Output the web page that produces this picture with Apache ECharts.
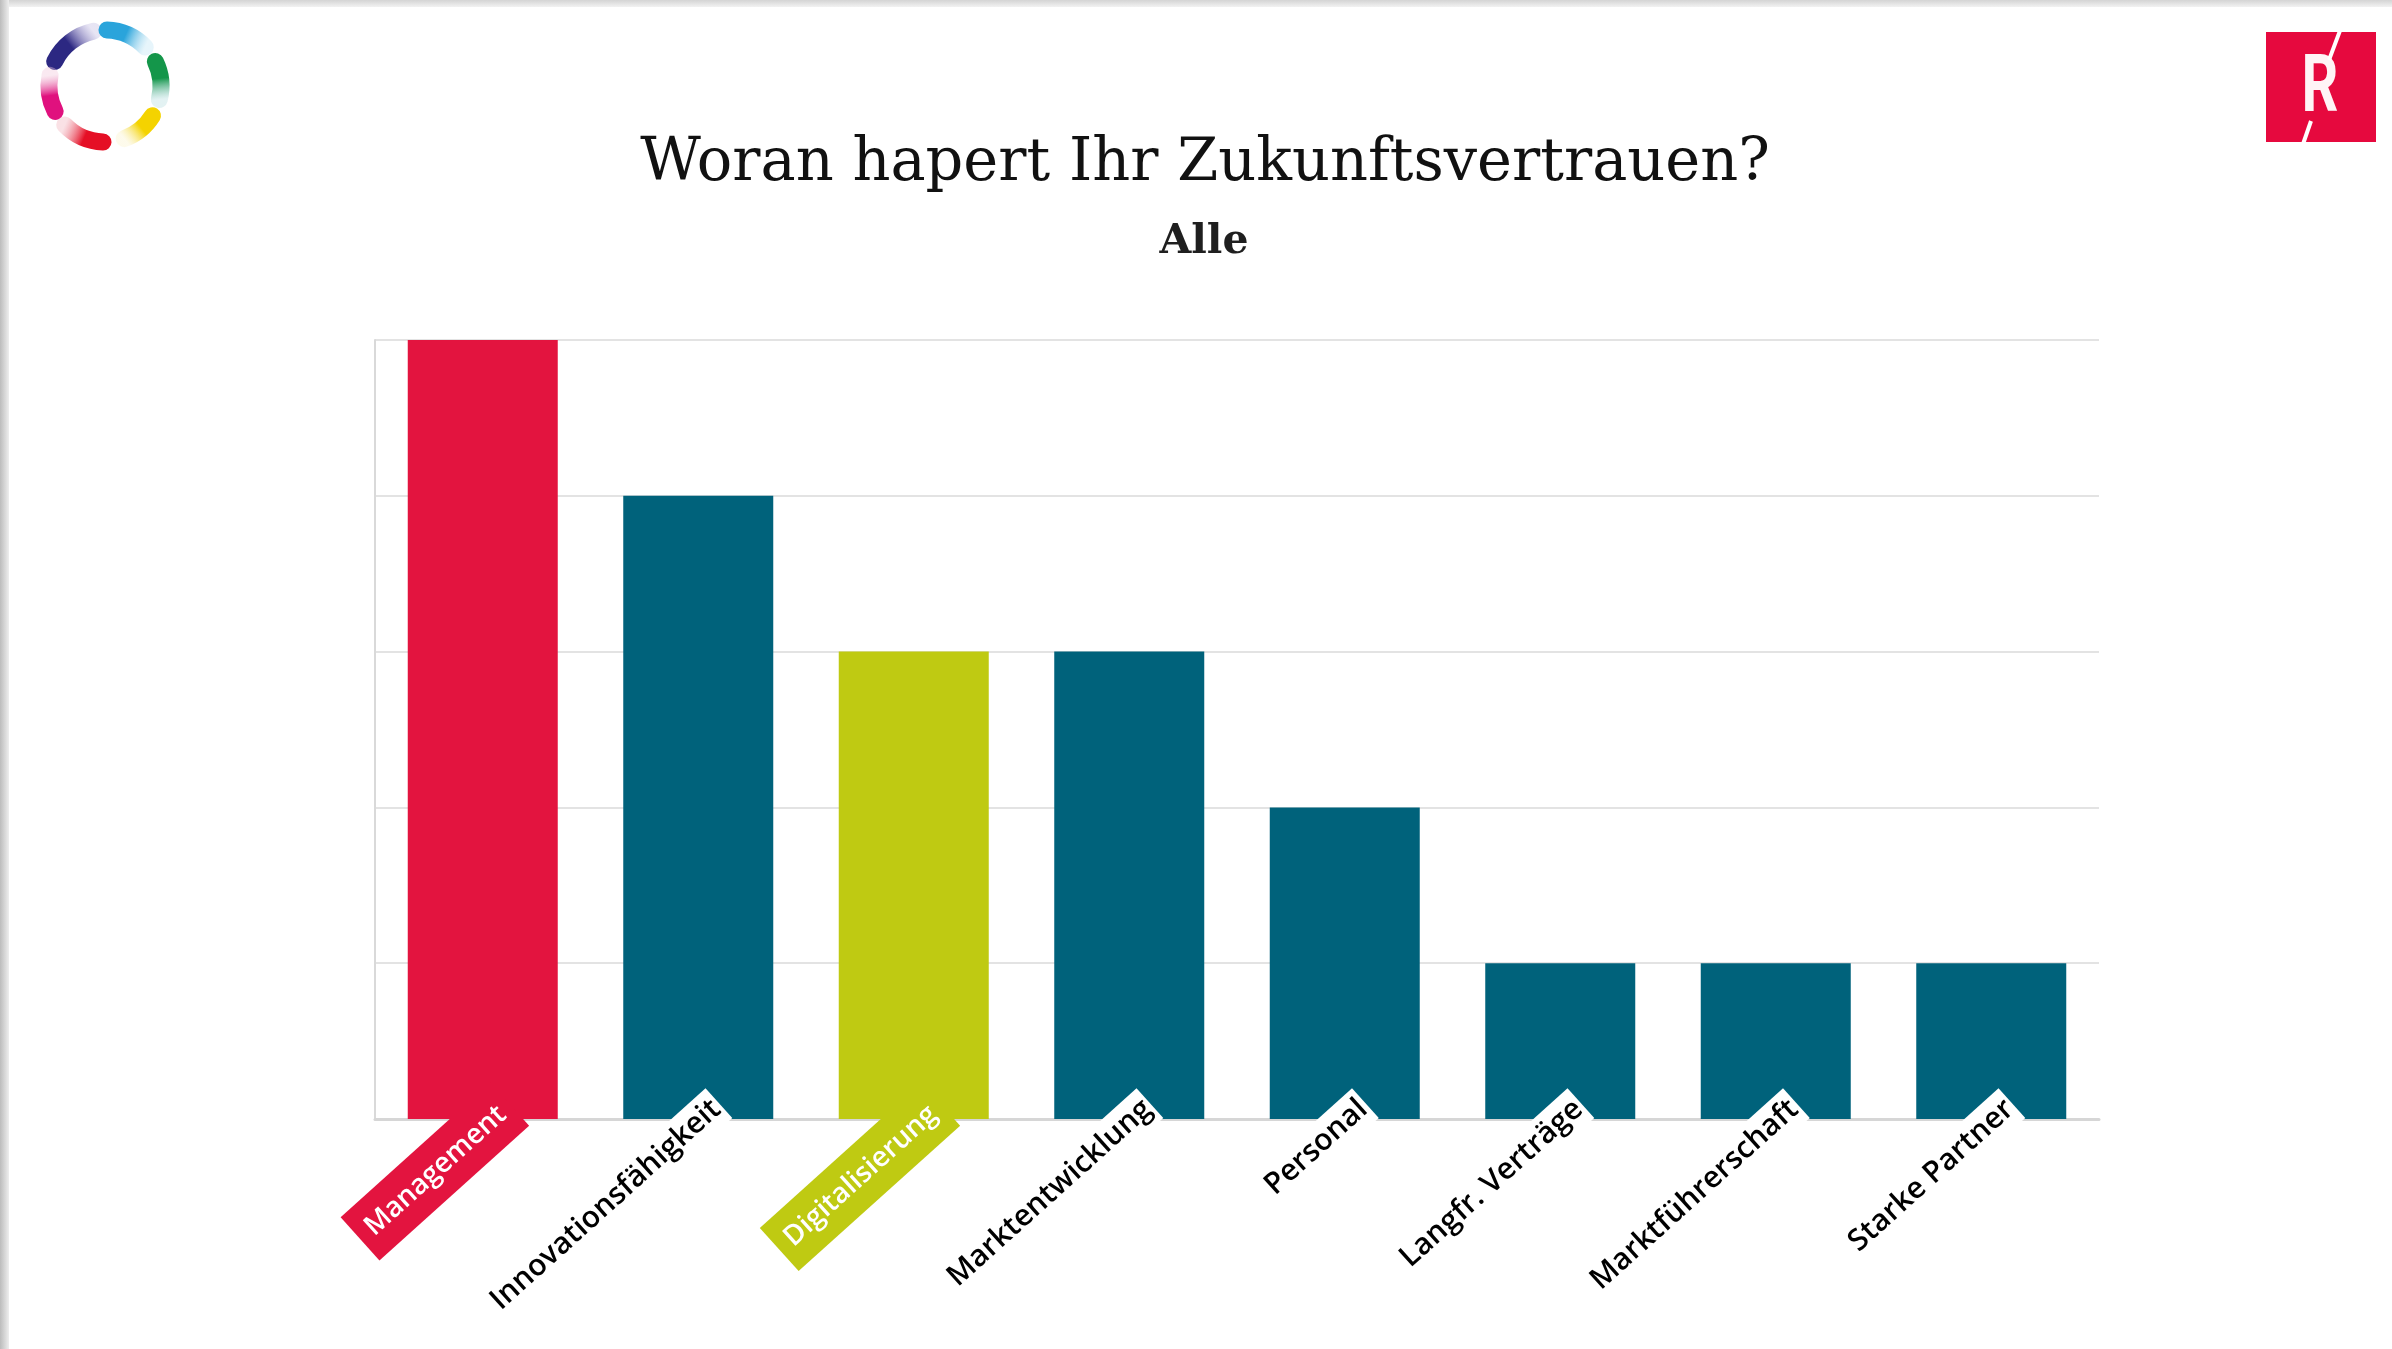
<!DOCTYPE html>
<html>
<head>
<meta charset="utf-8">
<title>Woran hapert Ihr Zukunftsvertrauen?</title>
<script src="https://cdn.jsdelivr.net/npm/echarts@6/dist/echarts.min.js"></script>
<style>
  html, body { margin: 0; padding: 0; background: #ffffff; }
  #chart { width: 2392px; height: 1349px; }
</style>
</head>
<body>
<div id="chart"></div>
<script>
// Survey answers: what holds back confidence in the future
const categories = ['Management', 'Innovationsfähigkeit', 'Digitalisierung', 'Marktentwicklung',
  'Personal', 'Langfr. Verträge', 'Marktführerschaft', 'Starke Partner'];
const values = [5, 4, 3, 3, 2, 1, 1, 1];
const barColors = ['#e3143f', '#00627b', '#bfca12', '#00627b', '#00627b', '#00627b', '#00627b', '#00627b'];
// categories whose name sits on a coloured flag instead of a white tag
const flagColors = { 'Management': '#e3143f', 'Digitalisierung': '#bfca12' };

const titleText = 'Woran hapert Ihr Zukunftsvertrauen?';
const subtitleText = 'Alle';

const chart = echarts.init(document.getElementById('chart'), null, { renderer: 'canvas' });

// colour ring logo: each segment starts strong and fades clockwise
const ring = { cx: 105, cy: 86, r: 56, w: 17 };
const ringSegments = [
  { from: 206, to: 258, c0: '#2c2882', c1: 'rgba(160,150,210,0.25)' },
  { from: 272, to: 316, c0: '#2aa4db', c1: 'rgba(175,222,242,0.3)' },
  { from: 334, to: 374, c0: '#14964a', c1: 'rgba(175,218,220,0.35)' },
  { from: 32, to: 70, c0: '#f4d300', c1: 'rgba(250,240,190,0.3)' },
  { from: 92, to: 136, c0: '#e50f25', c1: 'rgba(242,180,190,0.4)' },
  { from: 153, to: 191, c0: '#e0117e', c1: 'rgba(242,200,220,0.4)' }
];
const rad = d => d * Math.PI / 180;
const ringGraphics = ringSegments.map(s => {
  const x1 = ring.cx + ring.r * Math.cos(rad(s.from));
  const y1 = ring.cy + ring.r * Math.sin(rad(s.from));
  const x2 = ring.cx + ring.r * Math.cos(rad(s.to));
  const y2 = ring.cy + ring.r * Math.sin(rad(s.to));
  return {
    type: 'arc',
    shape: { cx: ring.cx, cy: ring.cy, r: ring.r, startAngle: rad(s.from), endAngle: rad(s.to), clockwise: true },
    style: {
      fill: null,
      lineWidth: ring.w,
      lineCap: 'round',
      stroke: {
        type: 'linear', global: true, x: x1, y: y1, x2: x2, y2: y2,
        colorStops: [{ offset: 0, color: s.c0 }, { offset: 0.45, color: s.c0 }, { offset: 1, color: s.c1 }]
      }
    },
    z: 20
  };
});

// category names: rotated tags hanging from the foot of each bar
const tagLabel = {
  show: true,
  formatter: '{b}',
  position: 'insideBottom',
  distance: 0,
  rotate: 42,
  align: 'right',
  verticalAlign: 'middle',
  offset: [26, 2],
  fontFamily: 'Open Sans',
  fontWeight: 600,
  fontSize: 30,
  lineHeight: 34,
  color: '#000000',
  textBorderWidth: 0,
  backgroundColor: '#ffffff',
  padding: [3, 3, 3, 6]
};
const flagLabel = color => ({
  color: '#ffffff',
  backgroundColor: color,
  fontSize: 28,
  lineHeight: 32,
  padding: [13, 10, 13, 12],
  offset: [30, 7]
});

const option = {
  backgroundColor: '#ffffff',
  animation: false,
  title: [
    {
      text: titleText,
      left: 1205,
      textAlign: 'center',
      top: 135,
      padding: 0,
      textStyle: { fontFamily: 'DejaVu Serif', fontWeight: 'normal', fontSize: 59, color: '#111111' }
    },
    {
      text: subtitleText,
      left: 1204,
      textAlign: 'center',
      top: 222,
      padding: 0,
      textStyle: { fontFamily: 'DejaVu Serif', fontWeight: 'bold', fontSize: 41, color: '#1f1f1f' }
    }
  ],
  grid: { left: 375, right: 293, top: 340, bottom: 230 },
  xAxis: {
    type: 'category',
    data: categories,
    axisTick: { show: false },
    axisLabel: { show: false },
    axisLine: { show: true, lineStyle: { color: '#d6d6d6', width: 3 } }
  },
  yAxis: {
    type: 'value',
    min: 0,
    max: 5,
    interval: 1,
    axisLabel: { show: false },
    axisTick: { show: false },
    axisLine: { show: true, lineStyle: { color: '#d9d9d9', width: 2 } },
    splitLine: { show: true, lineStyle: { color: '#e3e3e3', width: 2 } }
  },
  series: [{
    type: 'bar',
    barWidth: 150,
    label: tagLabel,
    data: values.map((v, i) => {
      const item = { value: v, itemStyle: { color: barColors[i] } };
      const flag = flagColors[categories[i]];
      if (flag) item.label = flagLabel(flag);
      return item;
    }),
    z: 2
  }],
  graphic: [
    // page edge shading
    {
      type: 'rect', left: 0, top: 0, z: 30,
      shape: { x: 0, y: 0, width: 9, height: 1349 },
      style: { fill: { type: 'linear', x: 0, y: 0, x2: 1, y2: 0,
        colorStops: [{ offset: 0, color: '#bcbcbc' }, { offset: 1, color: '#eeeeee' }] } }
    },
    {
      type: 'rect', left: 0, top: 0, z: 29,
      shape: { x: 0, y: 0, width: 2392, height: 7 },
      style: { fill: { type: 'linear', x: 0, y: 0, x2: 0, y2: 1,
        colorStops: [{ offset: 0, color: '#d4d4d4' }, { offset: 1, color: '#f2f2f2' }] } }
    },
    ...ringGraphics,
    // brand square with R
    {
      type: 'group', z: 20,
      children: [
        { type: 'rect', shape: { x: 2266, y: 32, width: 110, height: 110 }, style: { fill: '#e6093e' } },
        { type: 'text', x: 2320, y: 91, scaleX: 0.72,
          style: { text: 'R', fontFamily: 'Roboto', fontWeight: 'bold', fontSize: 80, fill: '#fff4f6',
            align: 'center', verticalAlign: 'middle' } },
        { type: 'line', shape: { x1: 2341, y1: 28, x2: 2329, y2: 60 }, style: { stroke: '#ffffff', lineWidth: 4 } },
        { type: 'line', shape: { x1: 2311, y1: 121, x2: 2302, y2: 147 }, style: { stroke: '#ffffff', lineWidth: 4 } }
      ]
    }
  ]
};

chart.setOption(option);
</script>
</body>
</html>
